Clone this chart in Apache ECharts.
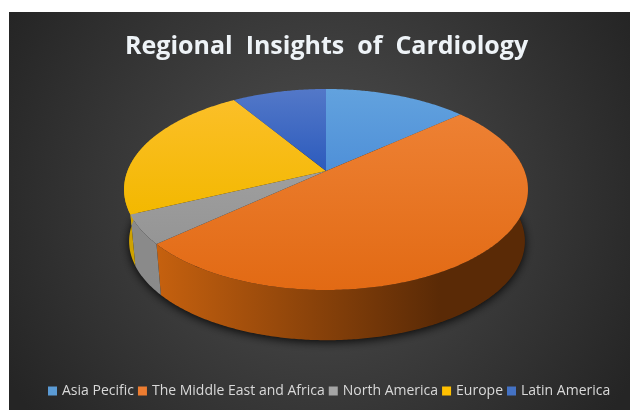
<!DOCTYPE html>
<html><head><meta charset="utf-8">
<style>html,body{margin:0;padding:0;background:#fff}#c{width:630px;height:410px}</style>
<script src="https://cdn.jsdelivr.net/npm/echarts@6/dist/echarts.min.js"></script>
</head><body><div id="c"></div>
<script>
const categories = ['Asia Pecific','The Middle East and Africa','North America','Europe','Latin America'];
const shares = [13.7, 49.8, 4.7, 22.8, 9.0];
const legendColors = ['#5b9bd5','#ed7d31','#a5a5a5','#ffc000','#4472c4'];
const topFar = ['#62a2de','#ef8438','#a9a9a9','#fcc02c','#5378c8'];
const topNear = ['#4f90d8','#e26a14','#959595','#f3b800','#2c5bbd'];
const wallNearLeft = ['#4a80b8','#c8620f','#8a8a8a','#cfa200','#3a60a8'];
const wallNearRight = ['#2f5878','#5a2a06','#9a9a9a','#c09800','#2a4478'];
const title = 'Regional  Insights  of  Cardiology';

// View of a tilted disc: perspective projection of the unit circle
const view = {cx:326, cy:171, A:97.1, B:198.5, k:0.184, depth:52, shrinkX:0.98, shrinkY:0.985, wallShiftX:1};
function project(theta, wall){
  const u = -Math.cos(theta), v = Math.sin(theta), w = 1 - view.k*u;
  let x = view.B*v/w, y = view.A*u/w;
  if (wall){ x = x*view.shrinkX + view.wallShiftX; y = y*view.shrinkY + view.depth; }
  return [view.cx + x, view.cy + y];
}
const total = shares.reduce((a,b)=>a+b,0);
function sliceRange(i){
  let s = 0; for (let j=0;j<i;j++) s += shares[j];
  return [s/total*2*Math.PI, (s+shares[i])/total*2*Math.PI];
}
function arc(a,b,wall){
  const n = Math.max(2,Math.ceil((b-a)/0.01)), pts=[];
  for (let t=0;t<=n;t++) pts.push(project(a+(b-a)*t/n,wall));
  return pts;
}
function vGrad(a,b,y2){return {type:'linear',x:0,y:89,x2:0,y2,global:true,colorStops:[{offset:0,color:a},{offset:1,color:b}]};}
function hGrad(a,b){return {type:'linear',x:150,y:0,x2:440,y2:0,global:true,colorStops:[{offset:0,color:a},{offset:1,color:b}]};}

const series = [];
// soft shadow under the disc
series.push({type:'custom',name:'_base',coordinateSystem:'none',z:1,silent:true,data:[total],
  renderItem(){return {type:'polygon',shape:{points:arc(0,2*Math.PI,true)},
    style:{fill:'#1a1a1a',shadowBlur:10,shadowColor:'rgba(0,0,0,0.85)',shadowOffsetY:2}};}});
categories.forEach((name,i)=>{
  series.push({type:'custom',name,coordinateSystem:'none',z:2,silent:true,itemStyle:{color:legendColors[i]},
    data:[shares[i]],
    renderItem(){
      const [a,b]=sliceRange(i);
      const lo=Math.max(a,1.2), hi=Math.min(b,5.1);
      const children=[];
      if(hi>lo){
        children.push({type:'polygon',z2:1,shape:{points:arc(lo,hi,false).concat(arc(lo,hi,true).reverse())},
          style:{fill:hGrad(wallNearLeft[i],wallNearRight[i])}});
      }
      return {type:'group',children};
    }});
});
categories.forEach((name,i)=>{
  series.push({type:'custom',name:'_top'+i,coordinateSystem:'none',z:3,silent:true,data:[shares[i]],
    renderItem(){
      const [a,b]=sliceRange(i);
      const pts=[[view.cx,view.cy]].concat(arc(a,b,false));
      const maxY=Math.max.apply(null,pts.map(p=>p[1]));
      return {type:'polygon',shape:{points:pts},style:{fill:vGrad(topFar[i],topNear[i],maxY)}};
    }});
});

const chart = echarts.init(document.getElementById('c'),null,{renderer:'canvas'});
chart.setOption({
  animation:false,
  backgroundColor:'#fff',
  graphic:[{type:'rect',z:-10,silent:true,shape:{x:9,y:12,width:621,height:398},
    style:{fill:{type:'radial',x:320,y:200,r:360,global:true,colorStops:[{offset:0,color:'#505050'},{offset:1,color:'#252525'}]}}}],
  title:{text:title,left:120,top:29,
    textStyle:{fontFamily:'Open Sans',fontWeight:'bold',fontSize:25,color:'#eef3f7'}},
  legend:{data:categories,left:43,top:379,icon:'rect',itemWidth:9,itemHeight:9,itemGap:4,
    textStyle:{fontFamily:'Open Sans',fontSize:14,color:'#d9d9d9'}},
  series
});
</script></body></html>
